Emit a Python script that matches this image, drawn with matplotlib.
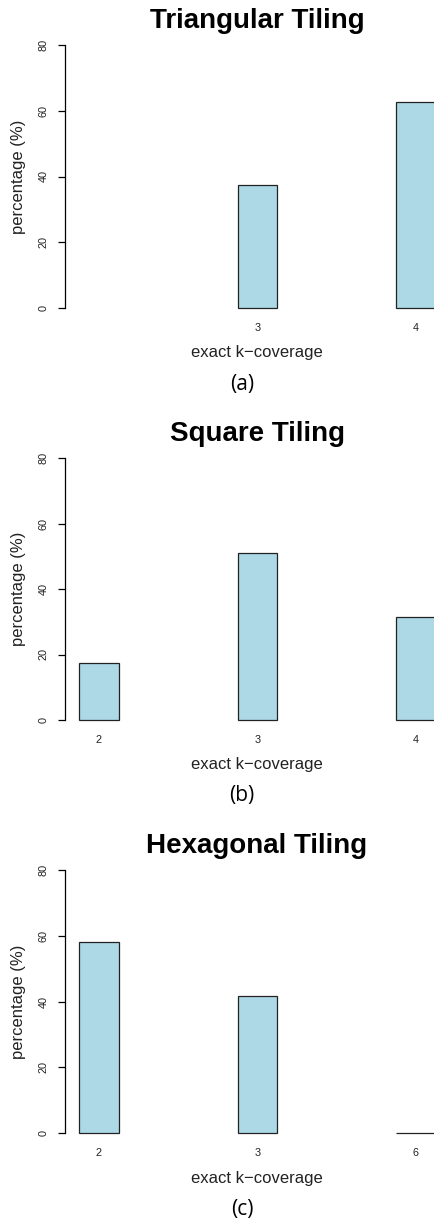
import matplotlib
matplotlib.use("Agg")
import matplotlib.pyplot as plt

# data
titles = ["Triangular Tiling", "Square Tiling", "Hexagonal Tiling"]
captions = ["(a)", "(b)", "(c)"]
k_labels = [["", "3", "4"], ["2", "3", "4"], ["2", "3", "6"]]
pct_values = [[None, 37.3, 62.7], [17.3, 51.1, 31.6], [58.2, 41.7, 0.1]]

W, H = 435, 1229
fig = plt.figure(figsize=(W / 100, H / 100), dpi=100)
plt.rcParams['font.family'] = ['Liberation Sans', 'DejaVu Sans']

# pixel rows of y=0 and y=80 in each panel
zero_px = [308, 720, 1133]
top_px = [45, 458, 870]
pad_u = 3.2  # R-style 4% extension

for i in range(3):
    ppu = (zero_px[i] - top_px[i]) / 80.0
    pad_px = pad_u * ppu
    bottom = 1 - (zero_px[i] + pad_px) / H
    height = (80 + 2 * pad_u) * ppu / H
    ax = fig.add_axes([65 / W, bottom, 370 / W, height])

    xs = [j for j, v in enumerate(pct_values[i]) if v is not None]
    hs = [v for v in pct_values[i] if v is not None]
    ax.bar(xs, hs, width=0.25, color='lightblue', edgecolor='#222222', linewidth=0.9)

    ax.set_xlim(-34 / 158.5, 2 + 19 / 158.5)
    ax.set_ylim(-pad_u, 80 + pad_u)
    for s in ['top', 'right', 'bottom']:
        ax.spines[s].set_visible(False)
    ax.spines['left'].set_bounds(0, 80)
    ax.spines['left'].set_linewidth(0.9)
    ax.set_yticks([0, 20, 40, 60, 80])
    ax.set_yticklabels(['0', '20', '40', '60', '80'], rotation=90, va='center', fontsize=7.8, color='#222222')
    ax.tick_params(axis='y', length=5, width=0.9, pad=7)
    ax.set_xticks(range(3))
    ax.set_xticklabels(k_labels[i], fontsize=7.8, color='#222222')
    ax.tick_params(axis='x', length=0, pad=3.5)

    # title, axis labels, caption
    fig.text(257 / W, 1 - (top_px[i] - 17) / H, titles[i], ha='center', va='baseline',
             fontsize=20, fontweight='bold')
    fig.text(257 / W, 1 - (zero_px[i] + 45) / H, "exact k\u2212coverage", ha='center', va='center',
             fontsize=12, color='#222222')
    fig.text(18.5 / W, 1 - (zero_px[i] - 131.5) / H, "percentage (%)", ha='center', va='center',
             rotation=90, fontsize=12, color='#222222')
    fig.text(242 / W, 1 - (zero_px[i] + 76) / H, captions[i], ha='center', va='center',
             fontsize=15, family=['Open Sans', 'DejaVu Sans'])

fig.savefig("out.png", dpi=100)
